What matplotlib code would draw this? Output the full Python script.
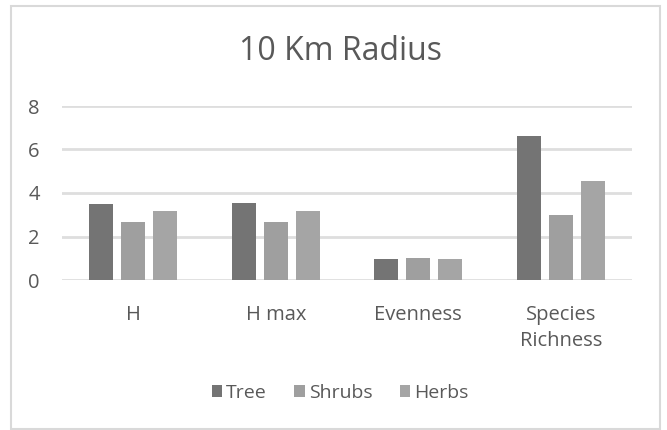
import numpy as np
import matplotlib.pyplot as plt
from matplotlib.patches import Rectangle

plt.rcParams['font.family'] = ['Open Sans', 'DejaVu Sans']

categories = ['H', 'H max', 'Evenness', 'Species\nRichness']
series = ['Tree', 'Shrubs', 'Herbs']
tree = [3.49, 3.55, 0.95, 6.62]
shrubs = [2.67, 2.67, 1.00, 2.99]
herbs = [3.19, 3.19, 0.95, 4.57]
colors = ['#747474', '#9f9f9f', '#a5a5a5']

text_color = '#595959'
grid_color = '#dedede'

fig = plt.figure(figsize=(6.67, 4.30), dpi=100)
ax = fig.add_axes([62 / 667, 1 - 280 / 430, 570 / 667, 174 / 430])

x = np.arange(len(categories))
width = 0.17
step = 0.225
for i, (vals, name) in enumerate(zip([tree, shrubs, herbs], series)):
    ax.bar(x + (i - 1) * step, vals, width, color=colors[i], label=name, zorder=3)

ax.set_xlim(-0.5, len(categories) - 0.5)
ax.set_ylim(0, 8)
ax.set_yticks([0, 2, 4, 6, 8])
ax.set_xticks(x)
ax.set_xticklabels(categories, linespacing=1.4)
ax.yaxis.grid(True, color=grid_color, linewidth=2)
ax.tick_params(axis='both', length=0, colors=text_color, labelsize=14.5)
ax.tick_params(axis='x', pad=18)
ax.tick_params(axis='y', pad=16)
for side in ['top', 'right', 'left', 'bottom']:
    ax.spines[side].set_visible(False)
ax.set_axisbelow(True)

fig.text(0.511, 1 - 52 / 430, '10 Km Radius', ha='center', va='center',
         fontsize=23, color=text_color)

leg = fig.legend(loc='center', bbox_to_anchor=(0.51, 1 - 393 / 430), ncol=3,
                 frameon=False, fontsize=14, handlelength=0.55, handleheight=0.55,
                 handletextpad=0.2, columnspacing=1.4, labelcolor=text_color)

# chart border
fig.patches.append(Rectangle((11 / 667, 1 / 430), 649 / 667, 423 / 430,
                             transform=fig.transFigure, fill=False,
                             edgecolor='#d9d9d9', linewidth=1.5))

fig.savefig('out.png', dpi=100)
